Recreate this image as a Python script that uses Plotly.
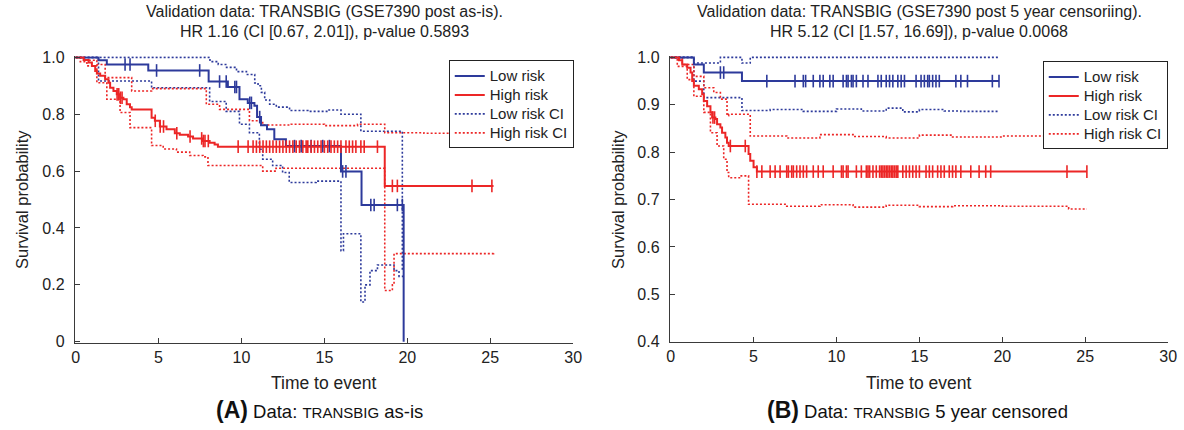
import numpy as np
import plotly.graph_objects as go

W, H = 1184, 430
BLUE = "#2d3a9b"
RED = "#ec2626"
FONT = "Liberation Sans, Arial, Helvetica, sans-serif"

# ---------------- Panel A: TRANSBIG as-is ----------------
lowA_t = [0, 1.38, 1.88, 4.38, 8.02, 9.18, 9.88, 10.38, 10.78, 10.94, 11.18, 11.54, 11.98, 12.68, 16.0, 17.24, 19.78]
lowA_s = [1.0, 0.99, 0.975, 0.954, 0.915, 0.896, 0.853, 0.84, 0.83, 0.79, 0.761, 0.747, 0.712, 0.688, 0.599, 0.481, 0.0]
lowA_cens = [2.98, 3.28, 4.88, 7.48, 8.68, 9.08, 9.6, 9.7, 10.5, 10.6, 11.1, 13.2, 13.6, 14.2, 14.9, 15.3,
             16.1, 16.3, 17.8, 18.0, 19.4, 19.7]

highA_t = [0, 0.48, 0.78, 0.98, 1.18, 1.28, 1.48, 1.78, 1.98, 2.08, 2.28, 2.48, 2.68, 2.88, 3.08, 3.28, 3.38,
           4.58, 4.78, 5.08, 5.48, 5.98, 6.28, 6.78, 7.08, 7.68, 8.08, 8.38, 8.58, 18.64, 25.2]
highA_s = [1.0, 0.991, 0.982, 0.97, 0.952, 0.943, 0.935, 0.923, 0.911, 0.893, 0.882, 0.87, 0.858, 0.853, 0.835,
           0.825, 0.817, 0.788, 0.777, 0.757, 0.747, 0.733, 0.728, 0.722, 0.715, 0.706, 0.70, 0.694, 0.686, 0.548, 0.548]
highA_cens = [2.5, 2.6, 2.7, 2.8, 4.8, 5.1, 5.3, 6.1, 6.9, 7.6, 7.7, 7.8, 8.0, 9.8, 10.4, 10.7, 10.9, 11.1, 11.3,
              11.5, 11.7, 11.9, 12.1, 12.3, 12.5, 12.7, 12.9, 13.1, 13.3, 13.5, 13.7, 13.9, 14.0, 14.2, 14.4, 14.6,
              14.8, 15.0, 15.2, 15.4, 15.6, 15.8, 16.0, 16.3, 16.5, 16.7, 16.9, 17.2, 17.4, 18.2, 19.1, 19.4, 23.9, 25.1]

lowA_ciup_t = [0, 7.9, 8.1, 8.6, 9.1, 9.7, 10.3, 10.8, 11.0, 11.2, 11.4, 11.7, 12.1, 12.9, 14.0, 15.2, 16.0, 17.2, 19.7, 19.8]
lowA_ciup_s = [1.0, 1.0, 0.985, 0.975, 0.965, 0.95, 0.94, 0.91, 0.90, 0.877, 0.85, 0.835, 0.825, 0.813, 0.81, 0.815,
               0.80, 0.74, 0.25, 0.25]
lowA_cilo_t = [0, 1.38, 4.58, 8.08, 9.08, 9.88, 10.48, 11.08, 11.28, 11.88, 12.48, 12.88, 14.5, 16.0, 16.15, 17.2,
               17.45, 17.75, 18.2, 19.2, 19.5, 19.8]
lowA_cilo_s = [1.0, 0.917, 0.893, 0.845, 0.81, 0.765, 0.735, 0.677, 0.642, 0.62, 0.595, 0.56, 0.565, 0.32, 0.38,
               0.14, 0.20, 0.25, 0.27, 0.25, 0.23, 0.23]

highA_ciup_t = [0, 0.5, 1.28, 1.78, 3.38, 4.58, 7.88, 8.68, 10.48, 11.28, 13.0, 15.0, 17.0, 18.64, 21.0, 25.2]
highA_ciup_s = [1.0, 0.99, 0.975, 0.929, 0.882, 0.89, 0.835, 0.817, 0.777, 0.762, 0.765, 0.76, 0.765, 0.735, 0.733, 0.738]
highA_cilo_t = [0, 0.28, 0.68, 1.28, 1.88, 2.68, 3.28, 4.58, 5.28, 6.08, 6.88, 7.68, 7.98, 11.28, 12.08, 18.64,
                19.1, 19.2, 25.2]
highA_cilo_s = [1.0, 0.985, 0.97, 0.911, 0.853, 0.806, 0.753, 0.69, 0.678, 0.667, 0.655, 0.65, 0.62, 0.60, 0.61,
                0.18, 0.20, 0.31, 0.315]

# ---------------- Panel B: TRANSBIG 5 year censored ----------------
lowB_t = [0, 1.4, 2.0, 4.3, 19.8]
lowB_s = [1.0, 0.985, 0.968, 0.95, 0.95]
lowB_cens = [3.0, 3.2, 5.8, 7.5, 8.0, 8.14, 8.6, 9.0, 9.2, 9.6, 9.8, 10.4, 10.6, 10.7, 10.9, 11.0, 11.2, 11.6,
             11.9, 12.5, 12.7, 13.0, 13.2, 13.4, 13.7, 13.9, 14.1, 14.8, 15.1, 15.3, 15.5, 15.6, 15.8, 16.0, 16.2,
             17.2, 17.5, 17.9, 19.4, 19.8]

highB_t = [0, 0.5, 0.7, 1.0, 1.2, 1.3, 1.4, 1.7, 1.9, 2.0, 2.2, 2.4, 2.5, 2.7, 2.8, 3.0, 3.1, 3.3, 3.4, 3.5,
           4.7, 4.8, 5.0, 5.2, 25.1]
highB_s = [1.0, 0.994, 0.985, 0.978, 0.968, 0.95, 0.94, 0.933, 0.922, 0.908, 0.897, 0.884, 0.873, 0.87, 0.859,
           0.852, 0.841, 0.831, 0.82, 0.813, 0.796, 0.782, 0.768, 0.759, 0.759]
highB_cens = [2.55, 2.65, 3.6, 4.5, 5.2, 5.5, 6.0, 6.3, 6.6, 7.0, 7.1, 7.3, 7.4, 7.6, 7.8, 8.0, 8.2, 8.6, 8.9,
              9.2, 9.8, 10.3, 10.4, 10.6, 10.7, 11.2, 11.5, 11.8, 11.9, 12.0, 12.2, 12.4, 12.6, 12.7, 12.8, 12.9,
              13.0, 13.1, 13.2, 13.3, 13.4, 13.5, 13.6, 13.7, 14.0, 14.2, 14.4, 14.6, 14.8, 15.0, 15.4, 15.6,
              15.8, 16.1, 16.3, 16.5, 16.8, 17.0, 17.2, 17.5, 18.1, 18.6, 19.0, 19.3, 23.9, 25.1]

lowB_ciup_t = [0, 1.4, 3.0, 4.3, 4.8, 19.8]
lowB_ciup_s = [1.0, 0.988, 1.0, 0.988, 1.0, 1.0]
lowB_cilo_t = [0, 1.4, 2.0, 4.3, 6.0, 8.0, 10.0, 11.5, 13.0, 14.0, 15.0, 16.5, 17.5, 19.8]
lowB_cilo_s = [1.0, 0.95, 0.915, 0.888, 0.89, 0.886, 0.891, 0.887, 0.893, 0.885, 0.89, 0.887, 0.886, 0.886]

highB_ciup_t = [0, 0.7, 1.4, 2.0, 2.6, 3.0, 3.4, 3.5, 4.8, 7.0, 9.0, 11.0, 13.0, 15.0, 17.0, 20.0, 24.0, 25.1]
highB_ciup_s = [1.0, 0.985, 0.96, 0.936, 0.926, 0.912, 0.877, 0.88, 0.834, 0.83, 0.837, 0.833, 0.83, 0.836, 0.832,
                0.834, 0.824, 0.824]
highB_cilo_t = [0, 0.4, 1.0, 1.4, 2.0, 2.4, 2.8, 3.2, 3.4, 3.5, 4.2, 4.7, 7.0, 9.0, 11.0, 13.0, 15.0, 17.0, 20.0,
                24.0, 25.1]
highB_cilo_s = [1.0, 0.981, 0.953, 0.918, 0.884, 0.841, 0.813, 0.785, 0.757, 0.746, 0.75, 0.69, 0.686, 0.689,
                0.684, 0.688, 0.685, 0.687, 0.686, 0.68, 0.68]

x_ticks = [0, 5, 10, 15, 20, 25, 30]
yA_ticks = [0, 0.2, 0.4, 0.6, 0.8, 1.0]
yA_labels = ["0", "0.2", "0.4", "0.6", "0.8", "1.0"]
yB_ticks = [0.4, 0.5, 0.6, 0.7, 0.8, 0.9, 1.0]
yB_labels = ["0.4", "0.5", "0.6", "0.7", "0.8", "0.9", "1.0"]

series_names = ["Low risk", "High risk", "Low risk CI", "High risk CI"]
titleA = ["Validation data: TRANSBIG (GSE7390 post as-is).", "HR 1.16 (CI [0.67, 2.01]), p-value 0.5893"]
titleB = ["Validation data: TRANSBIG (GSE7390 post 5 year censoriing).", "HR 5.12 (CI [1.57, 16.69]), p-value 0.0068"]
captionA = ("<b><span style='font-size:23px'>(A)</span></b> Data: "
            "<span style='font-size:15px'>TRANSBIG</span> as-is")
captionB = ("<b><span style='font-size:23px'>(B)</span></b> Data: "
            "<span style='font-size:15px'>TRANSBIG</span> 5 year censored")


def step_at(ts, ss, t):
    i = int(np.searchsorted(np.asarray(ts), t, side="right")) - 1
    return ss[max(i, 0)]


def lname(s):
    return "<span style='font-size:15px'>" + s + "</span>"


# page pixel -> paper fraction (compensating the observed render mapping)
SX, SY, OY = 0.994, 0.965, 7.5


def px(xo):
    return (xo / SX) / W


def py(yo):
    return 1 - ((yo - OY) / SY) / H


fig = go.Figure()


def add_panel(sfx, leg, low_t, low_s, low_c, high_t, high_s, high_c,
              lu_t, lu_s, ll_t, ll_s, hu_t, hu_s, hl_t, hl_s):
    xa, ya = "x" + sfx, "y" + sfx
    dot = "2px,2px"
    fig.add_trace(go.Scatter(x=lu_t, y=lu_s, mode="lines", line=dict(color=BLUE, width=1.6, dash=dot, shape="hv"),
                             name=lname(series_names[2]), legend=leg, legendrank=3, xaxis=xa, yaxis=ya))
    fig.add_trace(go.Scatter(x=ll_t, y=ll_s, mode="lines", line=dict(color=BLUE, width=1.6, dash=dot, shape="hv"),
                             showlegend=False, xaxis=xa, yaxis=ya))
    fig.add_trace(go.Scatter(x=hu_t, y=hu_s, mode="lines", line=dict(color=RED, width=1.6, dash=dot, shape="hv"),
                             name=lname(series_names[3]), legend=leg, legendrank=4, xaxis=xa, yaxis=ya))
    fig.add_trace(go.Scatter(x=hl_t, y=hl_s, mode="lines", line=dict(color=RED, width=1.6, dash=dot, shape="hv"),
                             showlegend=False, xaxis=xa, yaxis=ya))
    fig.add_trace(go.Scatter(x=low_t, y=low_s, mode="lines", line=dict(color=BLUE, width=2, shape="hv"),
                             name=lname(series_names[0]), legend=leg, legendrank=1, xaxis=xa, yaxis=ya))
    fig.add_trace(go.Scatter(x=high_t, y=high_s, mode="lines", line=dict(color=RED, width=2, shape="hv"),
                             name=lname(series_names[1]), legend=leg, legendrank=2, xaxis=xa, yaxis=ya))
    for ts, ss, cs, col in ((low_t, low_s, low_c, BLUE), (high_t, high_s, high_c, RED)):
        fig.add_trace(go.Scatter(x=cs, y=[step_at(ts, ss, c) for c in cs], mode="markers",
                                 marker=dict(symbol="line-ns", size=9, line=dict(color=col, width=1.6)),
                                 showlegend=False, xaxis=xa, yaxis=ya, cliponaxis=False))


add_panel("", "legend", lowA_t, lowA_s, lowA_cens, highA_t, highA_s, highA_cens,
          lowA_ciup_t, lowA_ciup_s, lowA_cilo_t, lowA_cilo_s, highA_ciup_t, highA_ciup_s, highA_cilo_t, highA_cilo_s)
add_panel("2", "legend2", lowB_t, lowB_s, lowB_cens, highB_t, highB_s, highB_cens,
          lowB_ciup_t, lowB_ciup_s, lowB_cilo_t, lowB_cilo_s, highB_ciup_t, highB_ciup_s, highB_cilo_t, highB_cilo_s)


def xdom(x0o, x1o):
    a, b = x0o / SX, x1o / SX
    sc = (b - a) / 30
    ext = 0.05
    return [(a - ext * sc) / W, b / W], [-ext, 30]


def ydom(lo, hi, top_o, bot_o, ext_lo, ext_hi):
    t = (top_o - OY) / SY
    b = (bot_o - OY) / SY
    sc = (b - t) / (hi - lo)
    t -= ext_hi * sc
    b += ext_lo * sc
    return [(H - b) / H, (H - t) / H], [lo - ext_lo, hi + ext_hi]


axcommon = dict(showgrid=False, zeroline=False, showline=True, linecolor="#3a3a3a", linewidth=1,
                ticks="inside", ticklen=5, tickcolor="#3a3a3a", tickfont=dict(size=16, color="#222", family=FONT))

dA, rA = xdom(72, 572)
dB, rB = xdom(670, 1170)
ydA, yrA = ydom(0, 1, 58, 343, 0.004, 0.004)
ydB, yrB = ydom(0.4, 1.0, 58, 343, 0.0, 0.003)

legcommon = dict(xanchor="left", yanchor="top", bgcolor="white", bordercolor="#222", borderwidth=1,
                 font=dict(size=12, family=FONT, color="#222"), tracegroupgap=0, itemwidth=30)

fig.update_layout(
    width=W, height=H, margin=dict(l=0, r=0, t=0, b=0), paper_bgcolor="white", plot_bgcolor="white",
    font=dict(family=FONT, color="#222"),
    xaxis=dict(domain=dA, range=rA, tickvals=x_ticks, anchor="y", **axcommon),
    yaxis=dict(domain=ydA, range=yrA, tickvals=yA_ticks, ticktext=yA_labels, anchor="x",
               ticklabelstandoff=6, **axcommon),
    xaxis2=dict(domain=dB, range=rB, tickvals=x_ticks, anchor="y2", **axcommon),
    yaxis2=dict(domain=ydB, range=yrB, tickvals=yB_ticks, ticktext=yB_labels, anchor="x2",
                ticklabelstandoff=6, **axcommon),
    legend=dict(x=px(447), y=py(61), **legcommon),
    legend2=dict(x=px(1044), y=py(62), **legcommon),
    showlegend=True,
)

ann = []
for cx, title, cap, capx in ((322, titleA, captionA, 317), (920, titleB, captionB, 918)):
    for line, yo in zip(title, (12, 32)):
        ann.append(dict(x=px(cx), y=py(yo), xref="paper", yref="paper", xanchor="center", yanchor="middle",
                        text=line, showarrow=False, font=dict(size=16, family=FONT, color="#222")))
    ann.append(dict(x=px(cx), y=py(384), xref="paper", yref="paper", xanchor="center", yanchor="middle",
                    text="Time to event", showarrow=False, font=dict(size=17.5, family=FONT, color="#222")))
    ann.append(dict(x=px(capx), y=py(411), xref="paper", yref="paper", xanchor="center", yanchor="middle",
                    text=cap, showarrow=False, font=dict(size=18.5, family=FONT, color="#111")))
for lx in (18, 617):
    ann.append(dict(x=px(lx), y=py(200), xref="paper", yref="paper", xanchor="center", yanchor="middle",
                    text="Survival probability", textangle=-90, showarrow=False,
                    font=dict(size=16.5, family=FONT, color="#222")))
fig.update_layout(annotations=ann)

fig.write_html("out.html")
